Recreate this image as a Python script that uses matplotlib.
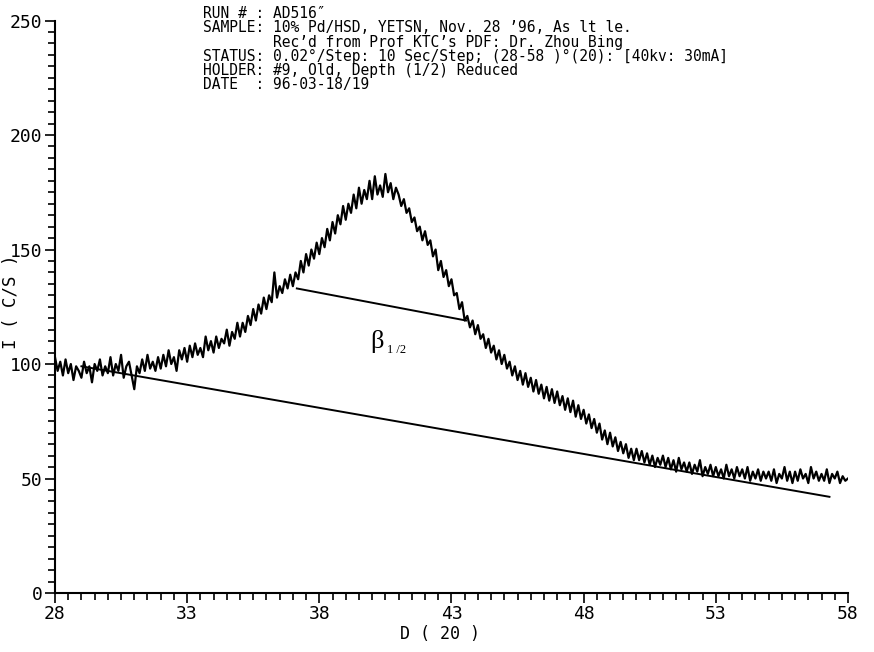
import numpy as np
import matplotlib
matplotlib.use("Agg")
import matplotlib.pyplot as plt
from matplotlib.ticker import MultipleLocator

# Scan 28-58 deg, every 0.1 deg (I in C/S)
two_theta = np.round(np.arange(28.0, 58.0001, 0.1), 1)
counts = [
    103, 97, 101, 95, 102, 96, 100, 93, 99, 97,
    94, 101, 96, 99, 92, 100, 97, 102, 95, 99,
    96, 103, 95, 100, 97, 104, 94, 99, 101, 95,
    89, 99, 96, 102, 97, 104, 98, 101, 97, 103,
    98, 104, 99, 106, 100, 103, 97, 106, 102, 107,
    101, 108, 103, 109, 104, 107, 103, 112, 106, 110,
    105, 112, 107, 111, 109, 115, 108, 114, 111, 118,
    112, 118, 114, 121, 117, 124, 119, 126, 122, 129,
    124, 130, 127, 140, 129, 134, 131, 137, 133, 139,
    134, 140, 137, 145, 140, 148, 143, 150, 146, 153,
    148, 155, 151, 159, 154, 162, 157, 165, 161, 169,
    163, 170, 166, 174, 168, 177, 170, 176, 172, 180,
    172, 182, 174, 178, 173, 183, 175, 179, 172, 177,
    174, 169, 172, 166, 168, 162, 164, 158, 160, 154,
    158, 152, 154, 147, 150, 141, 145, 138, 141, 134,
    137, 130, 131, 124, 127, 119, 121, 116, 119, 113,
    117, 111, 113, 107, 111, 105, 108, 102, 106, 100,
    104, 98, 101, 95, 99, 93, 97, 91, 96, 90,
    94, 88, 93, 87, 91, 85, 90, 84, 89, 83,
    88, 82, 86, 80, 85, 79, 84, 77, 82, 76,
    80, 74, 78, 72, 76, 70, 74, 67, 71, 65,
    70, 64, 68, 62, 66, 61, 65, 59, 63, 58,
    63, 58, 62, 57, 61, 56, 60, 55, 59, 56,
    60, 55, 59, 54, 58, 53, 59, 54, 57, 53,
    57, 52, 56, 53, 58, 51, 55, 52, 56, 51,
    55, 51, 54, 50, 56, 51, 54, 50, 55, 51,
    54, 50, 55, 49, 53, 50, 54, 49, 53, 50,
    53, 49, 54, 48, 52, 50, 55, 49, 53, 48,
    53, 49, 54, 50, 52, 48, 55, 50, 53, 49,
    52, 49, 54, 48, 52, 50, 53, 48, 51, 49,
    50,
]

# background line and half-height width line
base_x = [29.0, 57.3]
base_y = [99, 42]
fwhm_x = [37.15, 43.55]
fwhm_y = [133, 119]

x_ticks = [28, 33, 38, 43, 48, 53, 58]

header = [
    "RUN # : AD516\u2033",
    "SAMPLE: 10% Pd/HSD, YETSN, Nov. 28 \u201996, As lt le.",
    "        Rec\u2019d from Prof KTC\u2019s PDF: Dr. Zhou Bing",
    "STATUS: 0.02\u00b0/Step: 10 Sec/Step; (28-58 )\u00b0(20): [40kv: 30mA]",
    "HOLDER: #9, Old, Depth (1/2) Reduced",
    "DATE  : 96-03-18/19",
]

mono = "DejaVu Sans Mono"

fig = plt.figure(figsize=(8.74, 6.52), dpi=100)
ax = fig.add_axes([0.0629, 0.0905, 0.9073, 0.878])

ax.plot(two_theta, counts, color="black", linewidth=1.6)
ax.plot(base_x, base_y, color="black", linewidth=1.4)
ax.plot(fwhm_x, fwhm_y, color="black", linewidth=1.4)

ax.text(40.2, 110, "\u03b2", fontsize=19, family="Liberation Serif",
        ha="center", va="center")
ax.text(40.55, 106, "1 /2", fontsize=9, family="Liberation Serif",
        ha="left", va="center")

ax.set_xlim(28, 58)
ax.set_ylim(0, 250)
ax.set_xticks(x_ticks)
ax.xaxis.set_minor_locator(MultipleLocator(0.5))
ax.yaxis.set_major_locator(MultipleLocator(50))
ax.yaxis.set_minor_locator(MultipleLocator(5))
ax.tick_params(which="both", direction="out", width=1.2, color="black")
ax.tick_params(which="major", length=7, labelsize=13, pad=2)
ax.tick_params(which="minor", length=5)
for lab in ax.get_xticklabels() + ax.get_yticklabels():
    lab.set_family(mono)

for side in ["top", "right"]:
    ax.spines[side].set_visible(False)
for side in ["left", "bottom"]:
    ax.spines[side].set_linewidth(1.5)

ax.text(0.486, -0.072, "D ( 20 )", transform=ax.transAxes, family=mono,
        fontsize=12, ha="center", va="center")
ax.text(-0.056, 127, "I ( C/S )", transform=ax.get_yaxis_transform(),
        family=mono, fontsize=12.5, rotation=90, ha="center", va="center")

for i, line in enumerate(header):
    fig.text(203 / 874, 1 - (14 + i * 14) / 652, line, family=mono,
             fontsize=10.5, ha="left", va="center")

fig.savefig("out.png", dpi=100)
plt.close(fig)
